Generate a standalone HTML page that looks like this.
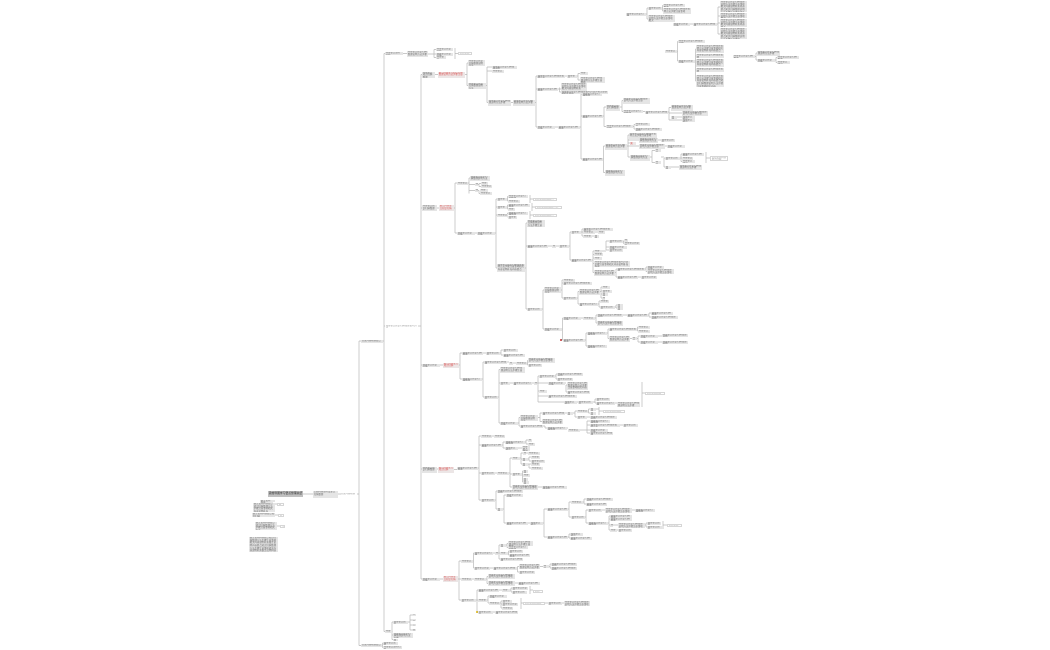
<!DOCTYPE html>
<html><head><meta charset="utf-8"><style>
html,body{margin:0;padding:0;background:#fff;}
#c{position:relative;width:1050px;height:650px;overflow:hidden;background:#fff;}
svg{position:absolute;left:0;top:0;}
#c b{position:absolute;display:block;box-sizing:border-box;overflow:hidden;word-break:break-all;font-weight:normal;
 font-family:"Liberation Sans","Noto Sans CJK SC",sans-serif;font-size:2.4px;line-height:2.6px;padding:0.3px 0.7px;
 background:#e5e5e5;color:#6a6a6a;}
#c b.r{background:#ece6e6;color:#dd5a5a;}
#c b.w{background:#fff;border:0.5px solid #d6d6d6;color:#aaa;}
#c b.d{background:#c0c0c0;color:#2a2a2a;font-size:2.8px;line-height:5.5px;}
#c b.t{background:transparent;color:#999;}
#c b.y{background:#e8c840;}
#c b.m{background:#e06060;}
</style></head><body><div id="c">
<svg width="1050" height="650" viewBox="0 0 1050 650"><path fill="none" stroke="#b8b8b8" stroke-width="0.7" d="
M303 494H313 M338 494H341 M357 494H359 M359 341V645.5 M359 341H361 M359 645.5H361
M273 501H275 M275 504H277 M275 515H278 M277 526H280
M383 341H384 M384 53.5V631.5 M384 53.5H385 M384 326H385 M384 631.5H385
M382 645H382.5 M382.5 643V647.5 M382.5 643H383 M382.5 647.5H383
M403 53.5H407 M428 54H434 M434 49.5V57.5 M434 49.5H436 M434 54H436 M434 57.5H436 M455 48V59 M455 53.5H458
M418 326H421
M392 631.5H392.5 M392 622V639.5 M392 622H393 M392 635H393 M392 639.5H393 M408 622H410 M410 615V630 M410 615H412 M410 620H412 M410 625H412 M410 630H412
M421 74.5V579 M421 74.5H422 M421 208H422 M421 365H422 M421 469H422 M421 579H422
M435 74.5H438 M437 208H439 M440 365H443 M437 469H438 M440 579H443
M465 74.5H467 M467 63V85.5 M467 63H468 M467 85.5H468 M486 85.5H487 M487 67V102.5 M487 67H492 M487 71H492 M487 102.5H488 M511 102.5H513 M535 102.5H536
M536 76V127 M536 76H537 M536 89H537 M536 127H537 M565 76H567 M577 76H578 M578 73.5V80 M578 73.5H580 M578 80H580 M558 89H561 M559.5 87.5V92 M559.5 92H561
M555 127H558 M580 127H581 M581 94V159 M581 94H582 M581 116H582 M581 159H582
M603 116H604 M604 107V126.5 M604 107H606 M604 126.5H606 M620 107H622 M622 100.5V111.5 M622 100.5H623 M622 111.5H623 M643 111.5H645 M668 112H669 M669 107.5V120 M669 107.5H671 M669 113H682 M677 117H682 M669 120H682
M633 126.5H634 M634 124.5V129 M634 124.5H635 M634 129H635
M603 159H603.5 M603.5 146V172.5 M603.5 146H605 M603.5 172.5H605 M627 146H628 M628 135V157 M628 135H629 M628 143H630 M628 140H639 M628 146H639 M628 157H630 M658 140H661 M665 146H667
M650 157H652 M652 150.5V162.5 M652 150.5H655 M652 162.5H655 M661 157H664 M664 158V167 M664 158H665 M664 167H665 M680 158H681 M681 154V161.5 M681 154H682 M681 158H682 M681 161.5H682 M706 152V163 M706 158H710 M671 167H679
M646 14H647 M647 8V19 M647 8H648 M647 19H648 M662 8H662.5 M662.5 5.5V11 M662.5 5.5H663 M662.5 11H663
M690 24H693 M717 24H718 M718 7V34 M718 7H720 M718 16H720 M718 23H720 M718 34H720
M677 51.5H677.5 M677.5 41.5V61 M677.5 41.5H678 M677.5 61H678 M695 61H695.5 M695.5 49V81 M695.5 49H696 M695.5 56H696 M695.5 63H696 M695.5 70H696 M695.5 81H696
M755 56.5H756 M756 53V60 M756 53H757 M756 60H757 M775 60H776 M776 57.5V62.5 M776 57.5H777 M776 62.5H777
M454 208H455 M455 183V233 M455 183H457 M455 233H457 M468 183H469 M469 178V193.5 M469 178H470 M469 184.5H475 M469 190.5H475 M478 184.5H479 M479 183.5V186.5 M479 183.5H481 M479 186.5H481 M478 190.5H479 M479 190.5V193.5 M479 193.5H480
M475 233H477 M495 233H496 M496 199V268 M496 199H497 M496 207H497 M496 215H497 M496 268H497
M507 199H507.5 M507.5 196.5V201 M507.5 196.5H508 M507.5 201H508 M530 195V203 M530 199H533
M507 207H507.5 M507.5 205V209 M507.5 205H508 M507.5 209H508 M532 203V211 M532 207H535
M508 215H507.5 M507.5 213V217 M507.5 213H508 M507.5 217H508 M530 211V219 M530 215H533
M525 268H526 M526 223V309 M526 223H527 M526 246H527 M526 309H527
M548 246H552 M556 246H559 M569 246H570 M570 232V260 M570 232H571 M570 260H571 M581 232H582 M582 229V236 M582 229H583 M582 232H583 M595 232H598 M582 236H583 M592 236H594
M592 260H593 M593 251V272.5 M593 251H594 M593 254.5H594 M593 258H594 M593 263.5H594 M593 272.5H594 M602 251H606 M606 241V250 M606 241H609 M606 247H609 M606 250H609 M623 241H624 M623.5 241V243.5 M623.5 243.5H624
M615 272.5H616 M616 269V277 M616 269H617 M616 277H617 M645 269H646 M646 267V271.5 M646 267H647 M646 271.5H647 M638 277H641
M542 309H543 M543 290V329 M543 290H544 M543 329H544 M561 290H562 M562 280V298 M562 280H563 M562 283H563 M562 298H563 M577 298H578 M578 291.5V304 M578 291.5H579 M578 304H579 M600 291.5H601 M601 287V298 M601 287H602 M601 291H602 M601 294H602 M601 298H602 M598 304H599 M599 301V307 M599 301H600 M599 307H600 M615 307H616 M616 305V308 M616 305H617 M616 308H617
M562 329H562.5 M562.5 318V340 M562.5 318H563 M562.5 340H563 M581 318H583 M595 318H596 M596 315V323 M596 315H597 M596 323H597 M623 315H627 M648 315H649 M649 313V317 M649 313H651 M649 317H651
M585 340H586 M586 333V346 M586 333H587 M586 346H587 M607 333H608 M608 329V338.5 M608 329H609 M608 338.5H609 M637 329H637.5 M637.5 327V331 M637.5 327H638 M637.5 331H638 M630 338.5H632 M637 338.5H638 M638 336V342 M638 336H640 M638 342H640 M658 336H662 M658 342H662
M459 365H460 M460 353V379 M460 353H462 M460 379H462 M483 353H486 M500 353H501 M501 350V355 M501 350H503 M501 355H503
M482 379H483 M483 362V397 M483 362H484 M483 397H484 M507 362H509 M513 363H516 M527 363H527.5 M527.5 360.5V365 M527.5 360.5H528 M527.5 365H528
M498 397H499 M499 369.5V423 M499 369.5H500 M499 383H500 M499 423H500 M510 383H513 M532 383H534 M537 383H538 M538 376V402 M538 376H539 M538 383H548 M538 391H539 M538 396H548 M538 402H564 M555 376H556 M556 374V379 M556 374H557 M556 379H557 M565 383H566 M566 385V392 M566 385H567 M566 392H567 M577 402H578 M593 402H595 M595 399V403 M595 399H596 M595 403H596 M615 403H617
M642 382V407 M642 393H645
M518 423H519 M519 417.5V426 M519 417.5H520 M519 426H520 M538 417.5H540 M540 413V421.5 M540 413H542 M540 421.5H542 M565 413H567 M573 413H575 M575 411V417 M575 411H577 M575 417H577 M588 411H588.5 M588.5 409V413 M588.5 409H590 M588.5 413H590 M596 409H599 M599 407V415 M599 411H603 M587 417H590
M543 426H545 M545 426V428 M545 428H547 M567 428H568 M580 430H587 M587 421V433 M587 421H590 M587 425H590 M587 430H590 M587 433H590 M620 425H623
M454 469.5H457 M478 468H479 M479 436V500 M479 436H481 M479 445H481 M479 473H481 M479 500H481 M492 436H494
M502 445H503 M503 442V448 M503 442H505 M503 448H505 M525 442H526 M526 440V444 M526 440H528 M526 444H528 M518 448H522
M495 473H497 M509 473H510 M510 458V487 M510 458H512 M510 474H512 M510 487H512 M520 458H521 M521 453V464 M521 453H523 M521 459H522 M521 464H522 M526 453H528 M528 459H529 M529 457V461 M529 457H531 M529 461H531 M528 464H531 M529 464V468 M529 468H531
M522 474H522.5 M522.5 471V482 M522.5 471H523 M522.5 475H523 M522.5 479H523 M522.5 482H523 M538 487H542
M495 500H496 M496 491V509 M496 491H497 M496 509H497 M503 509H504 M504 495V523 M504 495H506 M504 523H506 M528 523H530 M543 523H544 M544 509V537 M544 509H547 M544 537H547
M568 509H569 M569 502V517 M569 502H571 M569 517H571 M583 502H584 M584 499V504 M584 499H586 M584 504H586 M585 517H586 M586 510V523 M586 510H588 M586 523H588 M602 510H605 M632 510H635 M608 523H609 M609 516V530 M609 516H610 M609 519H610 M609 525H610 M609 530H610 M613 525H618 M645 525H646 M646 523V527 M646 523H647 M646 527H647 M663 521V529 M663 525H667 M617 530H618
M568 537H569 M569 534V538 M569 534H570 M569 538H570
M458 579H459 M459 561V600 M459 561H461 M459 579H461 M459 600H461 M473 561H473.5 M473.5 553V568 M473.5 553H474 M473.5 568H474 M493 553H495 M498 553H499 M499 545V559 M499 545H500 M499 553H500 M499 559H500 M506 545H507 M507 543.5V547.5 M507 543.5H508 M507 547.5H508 M508 553H508.5 M508.5 551V555 M508.5 551H509 M508.5 555H509
M490 568H493 M517 568H517.5 M517.5 566.5V572 M517.5 566.5H519 M517.5 572H519 M540 566.5H543 M549 566.5H550 M550 564V568 M550 564H551 M550 568H551
M472 579H474 M486 579H487 M487 576.5V583.5 M487 576.5H488 M487 583.5H488 M515 583H518
M476 600H477 M477 590V612 M477 590H478 M477 600H478 M477 612H478 M499 590H502 M510 590H511 M511 588V592 M511 588H512 M511 592H512 M530 586V594 M530 590H533
M487 600H488 M488 596V603 M488 596H489 M488 603H489 M500 603H501 M501 601V608 M501 601H502 M501 604H502 M501 608H502 M521 598V609 M521 603H523 M545 603H548 M562 603H564
M493 612H495
"/></svg>

<b class="d" style="left:268px;top:491px;width:35px;height:6px">思维导图学习要点整理总结</b>
<b style="left:313px;top:491px;width:25px;height:6.5px">主题内容说明及要点归纳整理</b>
<b class="t" style="left:340px;top:492.5px;width:17px;height:3px">分支内容标题</b>
<b style="left:260px;top:499.5px;width:13px;height:3px">备注说明内容</b>
<b style="left:253px;top:503px;width:22px;height:9px">备注说明内容要点知识归纳整理方法步骤注意事项相关内容说明补充</b>
<b class="w" style="left:277px;top:502.5px;width:7px;height:3px">备注</b>
<b style="left:252px;top:513px;width:23px;height:4px">备注说明内容要点知识归纳</b>
<b class="w" style="left:278px;top:513.5px;width:6px;height:3px">说明</b>
<b style="left:255px;top:522px;width:22px;height:8px">备注说明内容要点知识归纳整理方法步骤注意事项相关内容</b>
<b class="w" style="left:280px;top:524.5px;width:5px;height:3px">注</b>
<b style="left:249px;top:537px;width:29px;height:15px">备注说明内容要点知识归纳整理方法步骤注意事项相关内容说明补充备注说明内容要点知识归纳整理方法步骤注意事项相关内容说明补充备注说明内容要点知识归纳整理</b>

<b style="left:361px;top:339.5px;width:22px;height:3px">分支内容标题要点</b>
<b style="left:361px;top:643.5px;width:21px;height:3px">分支内容标题要点</b>
<b style="left:383px;top:641.5px;width:15px;height:3px">内容要点说明</b>
<b style="left:383px;top:646px;width:19px;height:3px">内容要点说明归纳</b>
<b style="left:385px;top:52px;width:18px;height:3px">内容要点说明归纳</b>
<b style="left:407px;top:51px;width:21px;height:6px">内容要点知识归纳整理说明方法步骤</b>
<b style="left:436px;top:48px;width:17px;height:3px">内容要点知识归纳</b>
<b style="left:436px;top:52.5px;width:17px;height:3px">内容要点知识归纳</b>
<b style="left:436px;top:56px;width:10px;height:3px">内容要点</b>
<b class="w" style="left:458px;top:52px;width:14px;height:3px">总结说明</b>
<b class="t" style="left:385px;top:324.5px;width:33px;height:3px">内容要点知识归纳整理说明方法</b>
<b style="left:385px;top:630px;width:7px;height:3px">内容</b>
<b style="left:393px;top:620.5px;width:15px;height:3px">内容要点知识</b>
<b style="left:393px;top:632.5px;width:20px;height:5.5px">内容要点知识归纳整理说明方法步骤</b>
<b style="left:393px;top:638.5px;width:5px;height:2.5px">内容</b>
<b style="left:412px;top:614px;width:4px;height:2px">一</b>
<b style="left:412px;top:619px;width:4px;height:2px">二</b>
<b style="left:412px;top:624px;width:4px;height:2px">三</b>
<b style="left:412px;top:629px;width:4px;height:2px">四</b>

<b style="left:422px;top:71.5px;width:13px;height:6px">内容要点知识归纳整理</b>
<b class="r" style="left:438px;top:71.5px;width:27px;height:6px">重点内容要点知识归纳整理说明方法步骤注意</b>
<b style="left:422px;top:205px;width:15px;height:6px">内容要点知识归纳整理</b>
<b class="r" style="left:439px;top:205px;width:15px;height:6px">重点内容要点知识归纳</b>
<b style="left:422px;top:363.5px;width:18px;height:3px">内容要点知识归纳</b>
<b class="r" style="left:443px;top:362.5px;width:16px;height:5.5px">重点内容要点知识归纳</b>
<b style="left:422px;top:466.5px;width:15px;height:6px">内容要点知识归纳整理</b>
<b class="r" style="left:438px;top:466.5px;width:16px;height:6px">重点内容要点知识归纳</b>
<b style="left:422px;top:577.5px;width:18px;height:3px">内容要点知识归纳</b>
<b class="r" style="left:443px;top:576px;width:15px;height:6px">重点内容要点知识归纳</b>

<b style="left:468px;top:60px;width:17px;height:6px">内容要点知识归纳整理说明方法</b>
<b style="left:468px;top:82.5px;width:18px;height:6px">内容要点知识归纳整理说明方法</b>
<b style="left:492px;top:65.5px;width:25px;height:3px">内容要点知识归纳整理说明</b>
<b style="left:492px;top:69.5px;width:12px;height:3px">内容要点</b>
<b style="left:488px;top:99.5px;width:23px;height:6px">内容要点知识归纳整理说明方法步骤</b>
<b style="left:513px;top:99.5px;width:22px;height:6px">内容要点知识归纳整理说明方法步骤</b>
<b style="left:537px;top:74.5px;width:28px;height:3px">内容要点知识归纳整理说明方法</b>
<b style="left:567px;top:74.5px;width:10px;height:3px">内容要点</b>
<b style="left:580px;top:72px;width:8px;height:3px">内容</b>
<b style="left:580px;top:77px;width:25px;height:6px">内容要点知识归纳整理说明方法步骤注意事项</b>
<b style="left:537px;top:87.5px;width:21px;height:3px">内容要点知识归纳整理</b>
<b style="left:561px;top:83px;width:26px;height:8px">内容要点知识归纳整理说明方法步骤注意事项相关内容说明补充</b>
<b style="left:561px;top:90.5px;width:47px;height:3px">内容要点知识归纳整理说明方法步骤注意事项相关内容</b>
<b style="left:537px;top:125.5px;width:18px;height:3px">内容要点知识归纳</b>
<b style="left:558px;top:125.5px;width:22px;height:3px">内容要点知识归纳整理</b>
<b style="left:582px;top:92.5px;width:20px;height:3px">内容要点知识归纳整理</b>
<b style="left:582px;top:114.5px;width:21px;height:3px">内容要点知识归纳整理</b>
<b style="left:606px;top:104.5px;width:14px;height:6px">内容要点知识归纳整理</b>
<b style="left:623px;top:97.5px;width:27px;height:6px">内容要点知识归纳整理说明方法步骤注意</b>
<b style="left:623px;top:110px;width:20px;height:3px">内容要点知识归纳整理</b>
<b style="left:645px;top:110.5px;width:23px;height:3px">内容要点知识归纳整理</b>
<b style="left:671px;top:104.5px;width:22px;height:6px">内容要点知识归纳整理说明方法步骤</b>
<b style="left:682px;top:110.5px;width:26px;height:5.5px">内容要点知识归纳整理说明方法步骤注意</b>
<b style="left:671px;top:115.5px;width:6px;height:3px">内容</b>
<b style="left:682px;top:115.5px;width:13px;height:3px">内容要点知识</b>
<b style="left:682px;top:118.5px;width:13px;height:3px">内容要点知识</b>
<b style="left:606px;top:125px;width:27px;height:3px">内容要点知识归纳整理说明</b>
<b style="left:635px;top:123px;width:15px;height:3px">内容要点知识</b>
<b style="left:635px;top:127.5px;width:27px;height:3px">内容要点知识归纳整理说明</b>
<b style="left:582px;top:157.5px;width:21px;height:3px">内容要点知识归纳整理</b>
<b style="left:605px;top:143.5px;width:22px;height:6px">内容要点知识归纳整理说明方法步骤</b>
<b style="left:629px;top:132.5px;width:28px;height:6px">内容要点知识归纳整理说明方法步骤注意事项</b>
<b class="r" style="left:629.5px;top:141.5px;width:6px;height:3px">重点</b>
<b style="left:639px;top:137.5px;width:19px;height:5.5px">内容要点知识归纳整理说明方法</b>
<b style="left:661px;top:138.5px;width:14px;height:3px">内容要点知识</b>
<b style="left:639px;top:143.5px;width:26px;height:5.5px">内容要点知识归纳整理说明方法步骤注意</b>
<b style="left:667px;top:144.5px;width:18px;height:3px">内容要点知识归纳</b>
<b style="left:630px;top:154.5px;width:20px;height:6px">内容要点知识归纳整理说明方法</b>
<b style="left:655px;top:149px;width:6px;height:3px">内容</b>
<b style="left:655px;top:161px;width:6px;height:3px">内容</b>
<b style="left:665px;top:156.5px;width:15px;height:3px">内容要点知识</b>
<b style="left:682px;top:152.5px;width:22px;height:3px">内容要点知识归纳整理</b>
<b style="left:682px;top:156.5px;width:11px;height:3px">内容要点</b>
<b style="left:682px;top:160px;width:13px;height:3px">内容要点知识</b>
<b class="w" style="left:710px;top:155.5px;width:18px;height:5px">总结说明内容要点归纳</b>
<b style="left:665px;top:165.5px;width:6px;height:3px">内容</b>
<b style="left:679px;top:164.5px;width:23px;height:5.5px">内容要点知识归纳整理说明方法步骤</b>
<b style="left:605px;top:169.5px;width:20px;height:6px">内容要点知识归纳整理说明方法</b>

<b style="left:626px;top:12.5px;width:20px;height:3px">内容要点知识归纳</b>
<b style="left:648px;top:6.5px;width:14px;height:3px">内容要点知识</b>
<b style="left:648px;top:15px;width:27px;height:6.5px">内容要点知识归纳整理说明方法步骤注意事项相关</b>
<b style="left:663px;top:4px;width:22px;height:3px">内容要点知识归纳整理</b>
<b style="left:663px;top:8px;width:28px;height:5.5px">内容要点知识归纳整理说明方法步骤注意事项</b>
<b style="left:673px;top:22.5px;width:17px;height:3px">内容要点知识归纳</b>
<b style="left:693px;top:22.5px;width:24px;height:3px">内容要点知识归纳整理</b>
<b style="left:720px;top:1px;width:27px;height:11px">内容要点知识归纳整理说明方法步骤注意事项相关内容说明补充内容要点知识归纳整理说明方法步骤注意事项相关内容说明</b>
<b style="left:720px;top:13px;width:27px;height:5px">内容要点知识归纳整理说明方法步骤注意事项相关</b>
<b style="left:720px;top:19px;width:27px;height:8px">内容要点知识归纳整理说明方法步骤注意事项相关内容说明补充内容要点</b>
<b style="left:720px;top:28px;width:27px;height:10.5px">内容要点知识归纳整理说明方法步骤注意事项相关内容说明补充内容要点知识归纳整理说明方法步骤注意事项</b>
<b style="left:665px;top:50px;width:12px;height:3px">内容要点</b>
<b style="left:678px;top:40px;width:27px;height:3px">内容要点知识归纳整理说明</b>
<b style="left:678px;top:59.5px;width:17px;height:3px">内容要点知识归纳</b>
<b style="left:696px;top:45px;width:28px;height:8px">内容要点知识归纳整理说明方法步骤注意事项相关内容说明补充内容要点</b>
<b style="left:696px;top:54px;width:28px;height:3.5px">内容要点知识归纳整理说明</b>
<b style="left:696px;top:59px;width:28px;height:8px">内容要点知识归纳整理说明方法步骤注意事项相关内容说明补充内容要点</b>
<b style="left:696px;top:68px;width:28px;height:4px">内容要点知识归纳整理说明</b>
<b style="left:696px;top:75px;width:28px;height:12px">内容要点知识归纳整理说明方法步骤注意事项相关内容说明补充内容要点知识归纳整理说明方法步骤注意事项相关内容</b>
<b style="left:733px;top:55px;width:22px;height:3px">内容要点知识归纳整理</b>
<b style="left:757px;top:50.5px;width:23px;height:5.5px">内容要点知识归纳整理说明方法步骤</b>
<b style="left:757px;top:58.5px;width:18px;height:3px">内容要点知识归纳</b>
<b style="left:777px;top:56px;width:22px;height:3px">内容要点知识归纳整理</b>
<b style="left:777px;top:61px;width:13px;height:3px">内容要点知识</b>

<b style="left:457px;top:181.5px;width:11px;height:3px">内容要点</b>
<b style="left:470px;top:175.5px;width:20px;height:5.5px">内容要点知识归纳整理说明方法</b>
<b style="left:475px;top:183px;width:3px;height:3px">内</b>
<b style="left:481px;top:182px;width:7px;height:3px">内容</b>
<b style="left:481px;top:185px;width:11px;height:3px">内容要点</b>
<b style="left:475px;top:189px;width:3px;height:3px">内</b>
<b style="left:480px;top:189px;width:8px;height:3px">内容</b>
<b style="left:480px;top:192px;width:12px;height:3px">内容要点</b>
<b style="left:457px;top:231.5px;width:18px;height:3px">内容要点知识归纳</b>
<b style="left:477px;top:231.5px;width:18px;height:3px">内容要点知识归纳</b>
<b style="left:497px;top:197.5px;width:10px;height:3px">内容要点</b>
<b style="left:508px;top:195px;width:20px;height:3px">内容要点知识归纳整理</b>
<b style="left:508px;top:199.5px;width:12px;height:3px">内容要点</b>
<b class="w" style="left:533px;top:197.5px;width:24px;height:3px">总结说明内容要点归纳</b>
<b style="left:497px;top:205.5px;width:10px;height:3px">内容要点</b>
<b style="left:508px;top:203.5px;width:22px;height:3px">内容要点知识归纳整理</b>
<b style="left:508px;top:207.5px;width:7px;height:3px">内容</b>
<b class="w" style="left:535px;top:205.5px;width:27px;height:3px">总结说明内容要点归纳整理</b>
<b style="left:497px;top:213.5px;width:11px;height:3px">内容要点</b>
<b style="left:508px;top:211.5px;width:20px;height:3px">内容要点知识归纳整理</b>
<b style="left:508px;top:215.5px;width:9px;height:3px">内容要点</b>
<b class="w" style="left:533px;top:213.5px;width:24px;height:3px">总结说明内容要点归纳</b>
<b style="left:497px;top:263.5px;width:28px;height:8px">内容要点知识归纳整理说明方法步骤注意事项相关内容说明补充内容要点</b>
<b style="left:527px;top:219.5px;width:18px;height:7px">内容要点知识归纳整理说明方法步骤注意</b>
<b style="left:527px;top:244.5px;width:21px;height:3px">内容要点知识归纳整理</b>
<b style="left:552px;top:244.5px;width:4px;height:3px">内</b>
<b style="left:559px;top:244.5px;width:10px;height:3px">内容要点</b>
<b style="left:571px;top:230.5px;width:10px;height:3px">内容要点</b>
<b style="left:583px;top:227.5px;width:30px;height:3px">内容要点知识归纳整理说明方法</b>
<b style="left:583px;top:230.5px;width:12px;height:3px">内容要点</b>
<b style="left:598px;top:230.5px;width:7px;height:3px">内容</b>
<b style="left:583px;top:234.5px;width:9px;height:3px">内容要</b>
<b style="left:594px;top:234.5px;width:5px;height:3px">内容</b>
<b style="left:571px;top:258.5px;width:21px;height:3px">内容要点知识归纳整理</b>
<b style="left:594px;top:249.5px;width:8px;height:3px">内容</b>
<b style="left:609px;top:239.5px;width:14px;height:3px">内容要点知识</b>
<b style="left:624px;top:239px;width:4px;height:2.5px">内</b>
<b style="left:624px;top:242px;width:16px;height:3px">内容要点知识归</b>
<b style="left:609px;top:245.5px;width:18px;height:3px">内容要点知识归纳</b>
<b style="left:609px;top:248.5px;width:14px;height:3px">内容要点知识</b>
<b style="left:594px;top:253px;width:9px;height:3px">内容要</b>
<b style="left:594px;top:256.5px;width:8px;height:3px">内容</b>
<b style="left:594px;top:261px;width:36px;height:5.5px">内容要点知识归纳整理说明方法步骤注意事项相关内容说明补充内容</b>
<b style="left:594px;top:270px;width:21px;height:5.5px">内容要点知识归纳整理说明方法步骤</b>
<b style="left:617px;top:267.5px;width:28px;height:3px">内容要点知识归纳整理说明</b>
<b style="left:647px;top:265.5px;width:17px;height:3px">内容要点知识归纳</b>
<b style="left:647px;top:269px;width:27px;height:5px">内容要点知识归纳整理说明方法步骤注意事项</b>
<b style="left:617px;top:275.5px;width:21px;height:3px">内容要点知识归纳整理</b>
<b style="left:641px;top:275.5px;width:16px;height:3px">内容要点知识归</b>
<b style="left:527px;top:307.5px;width:15px;height:3px">内容要点知识</b>
<b style="left:544px;top:287px;width:17px;height:6px">内容要点知识归纳整理说明方法</b>
<b style="left:563px;top:278.5px;width:12px;height:3px">内容要点</b>
<b style="left:563px;top:281.5px;width:29px;height:3px">内容要点知识归纳整理说明</b>
<b style="left:563px;top:296.5px;width:14px;height:3px">内容要点知识</b>
<b style="left:579px;top:289px;width:21px;height:5.5px">内容要点知识归纳整理说明方法步骤</b>
<b style="left:602px;top:285.5px;width:8px;height:3px">内容</b>
<b style="left:602px;top:289.5px;width:10px;height:3px">内容要点</b>
<b style="left:602px;top:292.5px;width:6px;height:3px">内容</b>
<b style="left:602px;top:296.5px;width:3px;height:3px">内</b>
<b style="left:579px;top:302.5px;width:19px;height:3px">内容要点知识归纳</b>
<b style="left:600px;top:299.5px;width:9px;height:3px">内容要</b>
<b style="left:600px;top:305.5px;width:15px;height:3px">内容要点知识</b>
<b style="left:617px;top:303.5px;width:6px;height:3px">内容</b>
<b style="left:617px;top:306.5px;width:6px;height:3px">内容</b>
<b style="left:544px;top:327.5px;width:18px;height:3px">内容要点知识归纳</b>
<b style="left:563px;top:316.5px;width:18px;height:3px">内容要点知识归纳</b>
<b style="left:583px;top:316.5px;width:12px;height:3px">内容要点</b>
<b style="left:597px;top:313.5px;width:26px;height:3px">内容要点知识归纳整理说明</b>
<b style="left:627px;top:313.5px;width:21px;height:3px">内容要点知识归纳整理</b>
<b style="left:651px;top:311.5px;width:22px;height:3px">内容要点知识归纳整理</b>
<b style="left:651px;top:315.5px;width:27px;height:3px">内容要点知识归纳整理说明</b>
<b style="left:597px;top:320.5px;width:26px;height:5px">内容要点知识归纳整理说明方法步骤注意事项</b>
<b class="m" style="left:560px;top:339px;width:2px;height:2px">重</b>
<b style="left:563px;top:338.5px;width:22px;height:3px">内容要点知识归纳整理</b>
<b style="left:587px;top:331.5px;width:20px;height:3px">内容要点知识归纳整理</b>
<b style="left:609px;top:327.5px;width:28px;height:3px">内容要点知识归纳整理说明</b>
<b style="left:638px;top:325.5px;width:12px;height:3px">内容要点</b>
<b style="left:638px;top:329.5px;width:12px;height:3px">内容要点</b>
<b style="left:609px;top:336px;width:21px;height:5.5px">内容要点知识归纳整理说明方法步骤</b>
<b style="left:632px;top:337px;width:5px;height:3px">内容</b>
<b style="left:640px;top:334.5px;width:18px;height:3px">内容要点知识归纳</b>
<b style="left:640px;top:340.5px;width:18px;height:3px">内容要点知识归纳</b>
<b style="left:662px;top:333.5px;width:26px;height:3px">内容要点知识归纳整理说明</b>
<b style="left:662px;top:340.5px;width:26px;height:3px">内容要点知识归纳整理说明</b>
<b style="left:587px;top:344.5px;width:20px;height:3px">内容要点知识归纳整理</b>

<b style="left:462px;top:351.5px;width:21px;height:3px">内容要点知识归纳整理</b>
<b style="left:486px;top:351.5px;width:14px;height:3px">内容要点知识</b>
<b style="left:503px;top:348.5px;width:15px;height:3px">内容要点知识</b>
<b style="left:503px;top:353.5px;width:22px;height:3px">内容要点知识归纳整理</b>
<b style="left:462px;top:377.5px;width:20px;height:3px">内容要点知识归纳整理</b>
<b style="left:484px;top:360.5px;width:23px;height:3px">内容要点知识归纳整理</b>
<b style="left:509px;top:361.5px;width:4px;height:3px">内</b>
<b style="left:516px;top:361.5px;width:11px;height:3px">内容要点</b>
<b style="left:528px;top:357.5px;width:27px;height:5.5px">内容要点知识归纳整理说明方法步骤注意事项</b>
<b style="left:528px;top:363.5px;width:14px;height:3px">内容要点知识</b>
<b style="left:484px;top:395.5px;width:14px;height:3px">内容要点知识</b>
<b style="left:500px;top:367px;width:25px;height:5.5px">内容要点知识归纳整理说明方法步骤注意</b>
<b style="left:500px;top:381.5px;width:10px;height:3px">内容要点</b>
<b style="left:513px;top:381.5px;width:19px;height:3px">内容要点知识归纳</b>
<b style="left:534px;top:381.5px;width:3px;height:3px">内</b>
<b style="left:539px;top:374.5px;width:16px;height:3px">内容要点知识归</b>
<b style="left:557px;top:372.5px;width:26px;height:3px">内容要点知识归纳整理说明</b>
<b style="left:557px;top:377.5px;width:16px;height:3px">内容要点知识归</b>
<b style="left:539px;top:389.5px;width:8px;height:3px">内容</b>
<b style="left:548px;top:381.5px;width:17px;height:3px">内容要点知识归纳</b>
<b style="left:567px;top:382px;width:21px;height:7.5px">内容要点知识归纳整理说明方法步骤注意事项相关内容</b>
<b style="left:567px;top:390.5px;width:23px;height:3px">内容要点知识归纳整理</b>
<b style="left:548px;top:394.5px;width:29px;height:3px">内容要点知识归纳整理说明</b>
<b style="left:564px;top:400.5px;width:13px;height:3px">内容要点知识</b>
<b style="left:578px;top:400.5px;width:15px;height:3px">内容要点知识</b>
<b style="left:596px;top:397.5px;width:14px;height:3px">内容要点知识</b>
<b style="left:596px;top:401.5px;width:19px;height:3px">内容要点知识归纳</b>
<b style="left:617px;top:402px;width:23px;height:5px">内容要点知识归纳整理说明方法步骤</b>
<b class="w" style="left:645px;top:391.5px;width:20px;height:3px">总结说明内容要点</b>
<b style="left:500px;top:421.5px;width:18px;height:3px">内容要点知识归纳</b>
<b style="left:520px;top:415px;width:18px;height:5.5px">内容要点知识归纳整理说明方法</b>
<b style="left:542px;top:411.5px;width:23px;height:3px">内容要点知识归纳整理</b>
<b style="left:567px;top:411.5px;width:6px;height:3px">内容</b>
<b style="left:577px;top:409.5px;width:11px;height:3px">内容要点</b>
<b style="left:590px;top:407.5px;width:6px;height:3px">内容</b>
<b style="left:590px;top:411.5px;width:6px;height:3px">内容</b>
<b class="w" style="left:603px;top:409.5px;width:22px;height:3px">总结说明内容要点</b>
<b style="left:577px;top:415.5px;width:10px;height:3px">内容要点</b>
<b style="left:590px;top:415.5px;width:27px;height:3px">内容要点知识归纳整理说明</b>
<b style="left:542px;top:419px;width:21px;height:5px">内容要点知识归纳整理说明方法步骤</b>
<b style="left:520px;top:424.5px;width:23px;height:3px">内容要点知识归纳整理</b>
<b style="left:547px;top:426.5px;width:20px;height:3px">内容要点知识归纳整理</b>
<b style="left:568px;top:428.5px;width:12px;height:3px">内容要点</b>
<b style="left:590px;top:419.5px;width:20px;height:3px">内容要点知识归纳整理</b>
<b style="left:590px;top:423.5px;width:30px;height:3px">内容要点知识归纳整理说明方法</b>
<b style="left:623px;top:423.5px;width:15px;height:3px">内容要点知识</b>
<b style="left:590px;top:428.5px;width:18px;height:3px">内容要点知识归纳</b>
<b style="left:590px;top:431.5px;width:23px;height:3px">内容要点知识归纳整理</b>

<b style="left:457px;top:466.5px;width:21px;height:3px">内容要点知识归纳整理</b>
<b style="left:481px;top:434.5px;width:11px;height:3px">内容要点</b>
<b style="left:494px;top:434.5px;width:11px;height:3px">内容要点</b>
<b style="left:481px;top:443.5px;width:21px;height:3px">内容要点知识归纳整理</b>
<b style="left:505px;top:440.5px;width:20px;height:3px">内容要点知识归纳整理</b>
<b style="left:528px;top:438.5px;width:4px;height:3px">内</b>
<b style="left:528px;top:442.5px;width:7px;height:3px">内容</b>
<b style="left:505px;top:446.5px;width:13px;height:3px">内容要点知识</b>
<b style="left:522px;top:446px;width:8px;height:5px">内容要点知识</b>
<b style="left:481px;top:471.5px;width:14px;height:3px">内容要点知识</b>
<b style="left:497px;top:471.5px;width:12px;height:3px">内容要点</b>
<b style="left:512px;top:456.5px;width:8px;height:3px">内容</b>
<b style="left:523px;top:451.5px;width:3px;height:3px">内</b>
<b style="left:528px;top:451.5px;width:12px;height:3px">内容要点</b>
<b style="left:522px;top:457.5px;width:6px;height:3px">内容</b>
<b style="left:531px;top:455.5px;width:9px;height:3px">内容要</b>
<b style="left:531px;top:459.5px;width:14px;height:3px">内容要点知识</b>
<b style="left:522px;top:462.5px;width:6px;height:3px">内容</b>
<b style="left:531px;top:462.5px;width:9px;height:3px">内容要</b>
<b style="left:531px;top:466.5px;width:12px;height:3px">内容要点</b>
<b style="left:512px;top:472.5px;width:10px;height:3px">内容要点</b>
<b style="left:523px;top:469.5px;width:5px;height:3px">内容</b>
<b style="left:523px;top:473.5px;width:7px;height:3px">内容</b>
<b style="left:523px;top:477.5px;width:5px;height:3px">内容</b>
<b style="left:523px;top:480.5px;width:6px;height:3px">内容</b>
<b style="left:512px;top:484.5px;width:26px;height:5.5px">内容要点知识归纳整理说明方法步骤注意事项</b>
<b style="left:542px;top:485.5px;width:25px;height:3px">内容要点知识归纳整理说明</b>
<b style="left:481px;top:498.5px;width:14px;height:3px">内容要点知识</b>
<b style="left:497px;top:489.5px;width:26px;height:3px">内容要点知识归纳整理说明</b>
<b style="left:497px;top:507.5px;width:6px;height:3px">内容</b>
<b style="left:506px;top:493.5px;width:17px;height:3px">内容要点知识归纳</b>
<b style="left:506px;top:521.5px;width:22px;height:3px">内容要点知识归纳整理</b>
<b style="left:530px;top:521.5px;width:13px;height:3px">内容要点知识</b>
<b style="left:547px;top:507.5px;width:21px;height:3px">内容要点知识归纳整理</b>
<b style="left:571px;top:500.5px;width:12px;height:3px">内容要点</b>
<b style="left:586px;top:497.5px;width:27px;height:3px">内容要点知识归纳整理说明</b>
<b style="left:586px;top:502.5px;width:21px;height:3px">内容要点知识归纳整理</b>
<b style="left:571px;top:515.5px;width:14px;height:3px">内容要点知识</b>
<b style="left:588px;top:508.5px;width:14px;height:3px">内容要点知识</b>
<b style="left:605px;top:508px;width:27px;height:5px">内容要点知识归纳整理说明方法步骤注意事项</b>
<b style="left:635px;top:508.5px;width:20px;height:3px">内容要点知识归纳整理</b>
<b style="left:588px;top:521.5px;width:20px;height:3px">内容要点知识归纳整理</b>
<b style="left:610px;top:514.5px;width:22px;height:3px">内容要点知识归纳整理</b>
<b style="left:610px;top:517.5px;width:22px;height:3px">内容要点知识归纳整理</b>
<b style="left:610px;top:523.5px;width:3px;height:3px">内</b>
<b style="left:618px;top:523px;width:27px;height:5px">内容要点知识归纳整理说明方法步骤注意事项</b>
<b style="left:647px;top:521.5px;width:14px;height:3px">内容要点知识</b>
<b style="left:647px;top:525.5px;width:15px;height:3px">内容要点知识</b>
<b class="w" style="left:667px;top:523.5px;width:15px;height:3px">总结说明内容</b>
<b style="left:610px;top:528.5px;width:7px;height:3px">内容</b>
<b style="left:618px;top:528.5px;width:14px;height:3px">内容要点知识</b>
<b style="left:547px;top:535.5px;width:21px;height:3px">内容要点知识归纳整理</b>
<b style="left:570px;top:532.5px;width:13px;height:3px">内容要点知识</b>
<b style="left:570px;top:536.5px;width:22px;height:3px">内容要点知识归纳整理</b>

<b style="left:461px;top:559.5px;width:12px;height:3px">内容要点</b>
<b style="left:474px;top:551.5px;width:19px;height:3px">内容要点知识归纳</b>
<b style="left:495px;top:551.5px;width:3px;height:3px">内</b>
<b style="left:500px;top:543.5px;width:6px;height:3px">内容</b>
<b style="left:508px;top:541px;width:25px;height:5px">内容要点知识归纳整理说明方法步骤注意事项</b>
<b style="left:508px;top:546px;width:20px;height:3px">内容要点知识归纳整理</b>
<b style="left:500px;top:551.5px;width:8px;height:3px">内容</b>
<b style="left:509px;top:549.5px;width:14px;height:3px">内容要点知识</b>
<b style="left:509px;top:553.5px;width:21px;height:3px">内容要点知识归纳整理</b>
<b style="left:500px;top:557.5px;width:23px;height:3px">内容要点知识归纳整理</b>
<b style="left:474px;top:566.5px;width:16px;height:3px">内容要点知识归</b>
<b style="left:493px;top:566.5px;width:24px;height:3px">内容要点知识归纳整理</b>
<b style="left:519px;top:564px;width:21px;height:5px">内容要点知识归纳整理说明方法步骤</b>
<b style="left:519px;top:570.5px;width:16px;height:3px">内容要点知识归</b>
<b style="left:543px;top:565px;width:6px;height:3px">内容</b>
<b style="left:551px;top:562.5px;width:26px;height:3px">内容要点知识归纳整理说明</b>
<b style="left:551px;top:566.5px;width:26px;height:3px">内容要点知识归纳整理说明</b>
<b style="left:461px;top:577.5px;width:11px;height:3px">内容要点</b>
<b style="left:474px;top:577.5px;width:12px;height:3px">内容要点</b>
<b style="left:488px;top:573.5px;width:27px;height:5.5px">内容要点知识归纳整理说明方法步骤注意事项</b>
<b style="left:488px;top:580.5px;width:27px;height:5.5px">内容要点知识归纳整理说明方法步骤注意事项</b>
<b style="left:518px;top:581.5px;width:22px;height:3px">内容要点知识归纳整理</b>
<b style="left:461px;top:598.5px;width:15px;height:3px">内容要点知识</b>
<b style="left:478px;top:588.5px;width:21px;height:3px">内容要点知识归纳整理</b>
<b style="left:502px;top:588.5px;width:8px;height:3px">内容</b>
<b style="left:512px;top:586.5px;width:16px;height:3px">内容要点知识归</b>
<b style="left:512px;top:590.5px;width:15px;height:3px">内容要点知识</b>
<b class="w" style="left:533px;top:589.5px;width:10px;height:3px">总结</b>
<b style="left:478px;top:598.5px;width:9px;height:3px">内容要</b>
<b style="left:489px;top:594.5px;width:18px;height:3px">内容要点知识归纳</b>
<b style="left:489px;top:601.5px;width:11px;height:3px">内容要点</b>
<b style="left:502px;top:599.5px;width:10px;height:3px">内容要点</b>
<b style="left:502px;top:602.5px;width:16px;height:3px">内容要点知识归</b>
<b style="left:502px;top:606.5px;width:11px;height:3px">内容要点</b>
<b class="w" style="left:523px;top:601.5px;width:22px;height:3px">总结说明内容要点</b>
<b style="left:548px;top:601.5px;width:14px;height:3px">内容要点知识</b>
<b style="left:564px;top:601px;width:26px;height:5px">内容要点知识归纳整理说明方法步骤注意事项</b>
<b class="y" style="left:476px;top:611px;width:2px;height:2px">注</b>
<b style="left:478px;top:610.5px;width:15px;height:3px">内容要点知识</b>
<b style="left:495px;top:610.5px;width:23px;height:3px">内容要点知识归纳整理</b>
</div></body></html>
